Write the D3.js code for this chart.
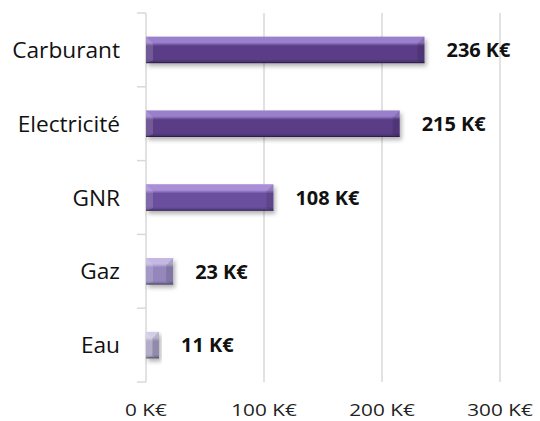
<!DOCTYPE html>
<html><head><meta charset="utf-8">
<script src="https://cdn.jsdelivr.net/npm/d3@7"></script>
<style>html,body{margin:0;padding:0;background:#fff;}svg{display:block;}</style>
</head><body>
<script>
const categories = ["Carburant","Electricité","GNR","Gaz","Eau"];
const values = [236, 215, 108, 23, 11];
const valueLabels = ["236 K€","215 K€","108 K€","23 K€","11 K€"];
const tickValues = [0, 100, 200, 300];
const tickLabels = ["0 K€","100 K€","200 K€","300 K€"];

const barColors = [
  {top:"#9a7fcc", mid:"#5a3e86", bot:"#422d66"},
  {top:"#9a7fcc", mid:"#5a3e86", bot:"#422d66"},
  {top:"#a98ed8", mid:"#6b4f9e", bot:"#4d3878"},
  {top:"#c4b8e2", mid:"#9587bc", bot:"#6f6396"},
  {top:"#d2cce4", mid:"#a69fc2", bot:"#7e7799"}
];

const W = 540, H = 421;
const svg = d3.select("body").append("svg").attr("width", W).attr("height", H);
const defs = svg.append("defs");
const f = defs.append("filter").attr("id","sh").attr("x","-10%").attr("y","-30%").attr("width","130%").attr("height","180%");
f.append("feDropShadow").attr("dx",2).attr("dy",3).attr("stdDeviation",2).attr("flood-color","#000").attr("flood-opacity",0.3);

barColors.forEach((c,i)=>{
  const g = defs.append("linearGradient").attr("id","g"+i).attr("x1",0).attr("y1",0).attr("x2",0).attr("y2",1);
  g.append("stop").attr("offset","0%").attr("stop-color",c.top);
  g.append("stop").attr("offset","22%").attr("stop-color",c.top);
  g.append("stop").attr("offset","35%").attr("stop-color",c.mid);
  g.append("stop").attr("offset","85%").attr("stop-color",c.mid);
  g.append("stop").attr("offset","100%").attr("stop-color",c.bot);
});

const x = d3.scaleLinear().domain([0,300]).range([146,500]);
const y = d3.scaleBand().domain(categories).range([13,382]).paddingInner(0.64).paddingOuter(0.32);

const font = "'Open Sans', sans-serif";

// gridlines
svg.append("g").selectAll("line").data(tickValues.slice(1)).join("line")
  .attr("x1",d=>x(d)).attr("x2",d=>x(d)).attr("y1",13).attr("y2",382)
  .attr("stroke","#d9d9d9").attr("stroke-width",1.5);

// category axis line + ticks
svg.append("line").attr("x1",x(0)).attr("x2",x(0)).attr("y1",13).attr("y2",382)
  .attr("stroke","#d9d9d9").attr("stroke-width",1.5);
const bounds = d3.range(categories.length+1).map(i=>13 + i*(369/categories.length));
svg.append("g").selectAll("line").data(bounds).join("line")
  .attr("x1",x(0)-9).attr("x2",x(0)).attr("y1",d=>d).attr("y2",d=>d)
  .attr("stroke","#d9d9d9").attr("stroke-width",1.5);

// x tick labels
svg.append("g").selectAll("text").data(tickValues).join("text")
  .attr("transform",d=>`translate(${x(d)},415.5) scale(1.22,1)`)
  .attr("text-anchor","middle")
  .attr("font-family",font).attr("font-size",17).attr("fill","#222")
  .text((d,i)=>tickLabels[i]);

// category labels
svg.append("g").selectAll("text").data(categories).join("text")
  .attr("transform",d=>`translate(120,${y(d)+y.bandwidth()/2}) scale(1.08,1)`)
  .attr("text-anchor","end").attr("dominant-baseline","central")
  .attr("font-family",font).attr("font-size",21).attr("fill","#111")
  .text(d=>d);

// bars
const bars = svg.append("g").selectAll("g").data(categories).join("g").attr("filter","url(#sh)");
bars.each(function(d,i){
  const g = d3.select(this);
  const x0 = x(0), x1 = x(values[i]);
  const y0 = y(d), y1 = y(d)+y.bandwidth();
  const b = Math.min(7, (x1-x0)/2);
  g.append("rect").attr("x",x0).attr("y",y0).attr("width",x1-x0).attr("height",y1-y0).attr("fill",`url(#g${i})`);
  g.append("polygon").attr("points",[[x0,y0],[x0+b,y0+b],[x0+b,y1-b*0.4],[x0,y1]].join(" "))
    .attr("fill","#fff").attr("fill-opacity",0.15);
  g.append("polygon").attr("points",[[x1,y0],[x1-b,y0+b],[x1-b,y1-b*0.4],[x1,y1]].join(" "))
    .attr("fill","#000").attr("fill-opacity",0.12);
  g.append("line").attr("x1",x0).attr("x2",x1).attr("y1",y1-0.5).attr("y2",y1-0.5).attr("stroke","#000").attr("stroke-opacity",0.35);
});

// value labels
svg.append("g").selectAll("text").data(categories).join("text")
  .attr("transform",(d,i)=>`translate(${x(values[i])+22},${y(d)+y.bandwidth()/2}) scale(1.05,1)`)
  .attr("dominant-baseline","central")
  .attr("font-family",font).attr("font-size",19).attr("font-weight","bold").attr("fill","#111")
  .text((d,i)=>valueLabels[i]);
</script>
</body></html>
